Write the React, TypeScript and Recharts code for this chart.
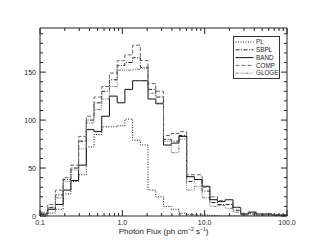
import { LineChart, Line, XAxis, YAxis, Legend, Label } from "recharts"

// log-spaced bin edges, 32 bins from 0.1 to 100
const binEdges = [
  0.1, 0.1241, 0.154, 0.1911, 0.2371, 0.2943, 0.3652, 0.4532, 0.5623, 0.6978, 0.866,
  1.0746, 1.3335, 1.6548, 2.0535, 2.5483, 3.1623, 3.9242, 4.8697, 6.043, 7.4989, 9.3057,
  11.548, 14.33, 17.783, 22.067, 27.384, 33.982, 42.17, 52.33, 64.938, 80.584, 100,
]

const plCounts = [0, 3, 7, 23, 36, 43, 72, 85, 93, 93, 94, 101, 79, 74, 27, 20, 10, 7, 3, 1.5, 1, 1, 0.5, 0, 0, 0, 0, 0, 0, 0, 0, 0]
const sbplCounts = [2, 9, 22, 38, 50, 78, 100, 118, 130, 142, 157, 160, 165, 155, 132, 124, 80, 78, 84, 36, 38, 26, 14, 12, 12, 6, 2, 3, 1, 2, 1, 1]
const bandCounts = [2, 7, 12, 27, 37, 53, 90, 88, 104, 125, 118, 132, 141, 141, 122, 117, 74, 76, 83, 41, 38, 31, 17, 15, 17, 9, 2, 4, 2, 2, 1, 1]
const compCounts = [3, 12, 27, 40, 53, 83, 104, 124, 135, 149, 162, 168, 178, 162, 138, 130, 84, 86, 88, 43, 43, 30, 20, 16, 17, 9, 3, 4, 2, 2, 1, 1]
const glogeCounts = [4, 8, 19, 36, 48, 70, 97, 111, 122, 135, 152, 152, 153, 154, 128, 118, 78, 66, 80, 27, 31, 19, 10, 11, 8, 4, 1, 2, 1, 1, 0, 1]

const xTicks = [
  0.1, 0.2, 0.3, 0.4, 0.5, 0.6, 0.7, 0.8, 0.9,
  1, 2, 3, 4, 5, 6, 7, 8, 9,
  10, 20, 30, 40, 50, 60, 70, 80, 90, 100,
]
const xMajor: Record<number, string> = { 0.1: "0.1", 1: "1.0", 10: "10.0", 100: "100.0" }

const yTicks = [0, 10, 20, 30, 40, 50, 60, 70, 80, 90, 100, 110, 120, 130, 140, 150, 160, 170, 180, 190]
const yMajor = [0, 50, 100, 150]

const series = [
  { key: "PL", stroke: "#111", dash: "1 1.5" },
  { key: "SBPL", stroke: "#222", dash: "4 1.5 1 1.5" },
  { key: "BAND", stroke: "#111", dash: undefined },
  { key: "COMP", stroke: "#666", dash: "4 2" },
  { key: "GLOGE", stroke: "#777", dash: "3 1 1 1 1 1 1 1" },
]

const counts: Record<string, number[]> = {
  PL: plCounts,
  SBPL: sbplCounts,
  BAND: bandCounts,
  COMP: compCounts,
  GLOGE: glogeCounts,
}

const data = binEdges.map((flux, i) => {
  const row: Record<string, number> = { flux }
  for (const s of series) row[s.key] = counts[s.key][Math.min(i, 31)]
  return row
})

const FONT = "'Liberation Sans', Arial, Helvetica, sans-serif"

function BottomTick({ x, y, payload }: any) {
  const label = xMajor[payload.value]
  return (
    <g>
      <line x1={x} x2={x} y1={y} y2={y - (label ? 6 : 3)} stroke="#222" />
      {label && (
        <text x={x} y={y + 9} textAnchor="middle" fontSize={7} fill="#222" fontFamily={FONT}>
          {label}
        </text>
      )}
    </g>
  )
}

function TopTick({ x, y, payload }: any) {
  const major = xMajor[payload.value]
  return <line x1={x} x2={x} y1={y} y2={y + (major ? 6 : 3)} stroke="#222" />
}

function LeftTick({ x, y, payload }: any) {
  const major = yMajor.includes(payload.value)
  return (
    <g>
      <line x1={x} x2={x + (major ? 6 : 3)} y1={y} y2={y} stroke="#222" />
      {major && (
        <text x={x - 4} y={y + 2.5} textAnchor="end" fontSize={7} fill="#222" fontFamily={FONT}>
          {payload.value}
        </text>
      )}
    </g>
  )
}

function RightTick({ x, y, payload }: any) {
  const major = yMajor.includes(payload.value)
  return <line x1={x} x2={x - (major ? 6 : 3)} y1={y} y2={y} stroke="#222" />
}

function FluxTitle({ viewBox }: any) {
  const { x, y, width } = viewBox
  return (
    <text x={x + width / 2} y={y + 18} textAnchor="middle" fontSize={8} fill="#222" fontFamily={FONT}>
      Photon Flux (ph cm
      <tspan dy={-3} fontSize={5}>−2</tspan>
      <tspan dy={3}> s</tspan>
      <tspan dy={-3} fontSize={5}>−1</tspan>
      <tspan dy={3}>)</tspan>
    </text>
  )
}

function LegendBox() {
  return (
    <svg width={47} height={43} style={{ display: "block" }}>
      <rect x={0.5} y={0.5} width={46} height={42} fill="#fff" stroke="#333" />
      {series.map((s, i) => {
        const ry = 6 + i * 7.8
        return (
          <g key={s.key}>
            <line x1={2.5} x2={20.5} y1={ry} y2={ry} stroke={s.stroke} strokeDasharray={s.dash} />
            <text x={23} y={ry + 2.2} fontSize={6.3} fill="#222" fontFamily={FONT}>
              {s.key}
            </text>
          </g>
        )
      })}
    </svg>
  )
}

export default function App() {
  return (
    <div style={{ position: "absolute", left: 0, top: 0, width: 311, height: 249, background: "#fff" }}>
      <LineChart
        width={311}
        height={249}
        data={data}
        margin={{ top: 20, right: 16, bottom: 0, left: 0 }}
        style={{ fontFamily: FONT }}
      >
        <XAxis
          dataKey="flux"
          type="number"
          scale="log"
          domain={[0.1, 100]}
          allowDataOverflow
          ticks={xTicks}
          interval={0}
          tickSize={0}
          tickMargin={0}
          tickLine={false}
          tick={<BottomTick />}
          axisLine={{ stroke: "#222" }}
          height={33}
        >
          <Label content={<FluxTitle />} />
        </XAxis>
        <XAxis
          xAxisId="top"
          orientation="top"
          dataKey="flux"
          type="number"
          scale="log"
          domain={[0.1, 100]}
          allowDataOverflow
          ticks={xTicks}
          interval={0}
          tickSize={0}
          tickMargin={0}
          tickLine={false}
          tick={<TopTick />}
          axisLine={{ stroke: "#222" }}
          height={8}
        />
        <YAxis
          type="number"
          domain={[0, 196]}
          allowDataOverflow
          ticks={yTicks}
          interval={0}
          tickSize={0}
          tickMargin={0}
          tickLine={false}
          tick={<LeftTick />}
          axisLine={{ stroke: "#222" }}
          width={40}
        />
        <YAxis
          yAxisId="right"
          orientation="right"
          type="number"
          domain={[0, 196]}
          allowDataOverflow
          ticks={yTicks}
          interval={0}
          tickSize={0}
          tickMargin={0}
          tickLine={false}
          tick={<RightTick />}
          axisLine={{ stroke: "#222" }}
          width={8}
        />
        <Legend
          layout="horizontal"
          verticalAlign="middle"
          align="center"
          content={<LegendBox />}
          wrapperStyle={{ position: "absolute", left: 233, top: 36, width: 47, height: 43 }}
        />
        {series.map((s) => (
          <Line
            key={s.key}
            type="stepAfter"
            dataKey={s.key}
            stroke={s.stroke}
            strokeWidth={1}
            strokeDasharray={s.dash}
            dot={false}
            activeDot={false}
            isAnimationActive={false}
          />
        ))}
      </LineChart>
    </div>
  )
}
